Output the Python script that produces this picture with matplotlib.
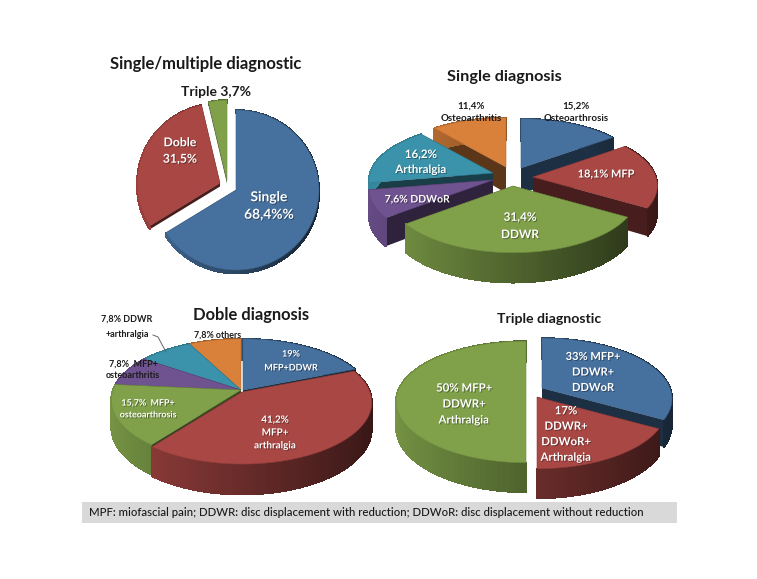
import numpy as np
import matplotlib
matplotlib.use("Agg")
import matplotlib.pyplot as plt
from matplotlib.patches import Polygon, Rectangle
from matplotlib.colors import to_rgb
import matplotlib.patheffects as pe

plt.rcParams['font.family'] = ['Lato', 'DejaVu Sans']

# colours of the slices
blue = '#46719f'
red = '#a94744'
green = '#80a14a'
purple = '#6f5290'
cyan = '#3b93ab'
orange = '#d9803a'

# values
multi_values = [68.4, 31.5, 3.7]
single_values = [15.2, 18.1, 31.4, 7.6, 16.2, 11.4]
doble_values = [19, 41.2, 15.7, 7.8, 7.8, 7.8]
triple_values = [33, 17, 50]

multi_labels = ["Single\n68,4%%", "Doble\n31,5%", "Triple 3,7%"]
single_labels = ["15,2%\nOsteoarthrosis", "18,1% MFP", "31,4%\nDDWR",
                 "7,6% DDWoR", "16,2%\nArthralgia", "11,4%\nOsteoarthritis"]
doble_labels = ["19%\nMFP+DDWR", "41,2%\nMFP+\narthralgia", "15,7%  MFP+\nosteoarthrosis",
                "7,8%  MFP+\nosteoarthritis", "7,8% DDWR\n+arthralgia", "7,8% others"]
triple_labels = ["33% MFP+\nDDWR+\nDDWoR", "17%\nDDWR+\nDDWoR+\nArthralgia", "50% MFP+\nDDWR+\nArthralgia"]

titles = ["Single/multiple diagnostic", "Single diagnosis", "Doble diagnosis", "Triple diagnostic"]
footer = "MPF: miofascial pain; DDWR: disc displacement with reduction; DDWoR: disc displacement without reduction"

fig = plt.figure(figsize=(7.57, 5.79), dpi=100)
ax = fig.add_axes([0, 0, 1, 1])
ax.set_xlim(0, 757)
ax.set_ylim(579, 0)
ax.axis('off')


def shade(color, f):
    return tuple(c * f for c in to_rgb(color))


def draw_pie(values, colors, cx, cy, rx, ry, depth, k, offsets):
    # 3d looking pie, slices go clockwise from 12 o'clock
    angles = np.concatenate([[0], np.cumsum(values)]) / np.sum(values) * 2 * np.pi
    mids = (angles[:-1] + angles[1:]) / 2
    for i in np.argsort(-np.cos(mids)):
        dx, dy = offsets[i]
        t = np.linspace(angles[i], angles[i + 1], 80)
        u = np.sin(t)
        v = np.cos(t)

        # d moves the point down to the bottom of the pie
        def project(a, b, d):
            s = 1 - k * b
            return cx + dx + rx * a * s, cy + dy - ry * b * s + depth * d * s

        ax0, ay0 = project(0, 0, 0)
        bx0, by0 = project(0, 0, 1)
        # flat side walls
        for e in [0, -1]:
            ex, ey = project(u[e], v[e], 0)
            fx, fy = project(u[e], v[e], 1)
            ax.add_patch(Polygon([(ax0, ay0), (ex, ey), (fx, fy), (bx0, by0)],
                                 fc=shade(colors[i], 0.42), ec='none'))
        # round wall, lighter on the left
        for j in range(len(t) - 1):
            x1, y1 = project(u[j], v[j], 0)
            x2, y2 = project(u[j + 1], v[j + 1], 0)
            x3, y3 = project(u[j + 1], v[j + 1], 1)
            x4, y4 = project(u[j], v[j], 1)
            c = shade(colors[i], 0.62 - 0.30 * u[j])
            ax.add_patch(Polygon([(x1, y1), (x2, y2), (x3, y3), (x4, y4)], fc=c, ec=c, lw=0.6,
                                 antialiased=False))
        # top
        xs, ys = project(u, v, 0)
        pts = [(ax0, ay0)] + list(zip(xs, ys))
        ax.add_patch(Polygon(pts, fc=colors[i], ec=shade(colors[i], 0.85), lw=0.4))


draw_pie(multi_values, [blue, red, green], 236, 190, 83, 80, 3.5, 0,
         [(0, 0), (-16, -7), (-9, -10)])
draw_pie(single_values, [blue, red, green, purple, cyan, orange], 510, 175, 123, 58, 26, 0.15,
         [(11, -7), (23, 2), (3, 11), (-17, 5), (-17, -2), (-4, -8)])
draw_pie(doble_values, [blue, red, green, purple, cyan, orange], 241, 390, 128, 61.6, 26, 0.17,
         [(2, 0), (1, 2), (0, 0), (0, 0), (0, 0), (0, 0)])
draw_pie(triple_values, [blue, red, green], 532, 391, 128, 60.8, 25, 0.18,
         [(10, -3), (5, 6), (-6, 0)])

shadow = [pe.withSimplePatchShadow(offset=(0.7, -0.7), shadow_rgbFace='k', alpha=0.35)]


def label(x, y, s, size, color='white', weight='bold', gap=1.2):
    t = ax.text(x, y, s, fontsize=size, color=color, fontweight=weight, ha='center',
                va='center', linespacing=gap, multialignment='center')
    if color == 'white':
        t.set_path_effects(shadow)
    return t


# titles
label(206, 64, titles[0], 12, '#1a1a1a')
label(504, 77, titles[1], 11.7, '#1a1a1a')
label(251, 315, titles[2], 11.9, '#1a1a1a')
label(549, 319, titles[3], 10.2, '#1a1a1a')

# first pie
label(269, 206, multi_labels[0], 9.9, gap=1.55)
label(180, 151, multi_labels[1], 8.8, gap=1.6)
label(216, 92, multi_labels[2], 10, '#1a1a1a')

# second pie
label(576, 112, single_labels[0], 7, '#1a1a1a', gap=1.5)
label(606, 174, single_labels[1], 7.9)
label(520, 226, single_labels[2], 8.5, gap=1.7)
label(417, 200, single_labels[3], 7.5)
label(421, 162, single_labels[4], 8.3, gap=1.45)
label(471, 112, single_labels[5], 7, '#1a1a1a', gap=1.5)

# third pie
label(291, 361, doble_labels[0], 6.5, gap=1.7)
label(275, 433, doble_labels[1], 7.1, gap=1.55)
label(148, 409, doble_labels[2], 6.4, gap=1.4)
label(133, 370, doble_labels[3], 6.5, '#1a1a1a', gap=1.4)
label(127, 327, doble_labels[4], 6.5, '#1a1a1a', gap=1.9)
label(218, 335, doble_labels[5], 6.4, '#1a1a1a')
ax.plot([153, 158, 166], [335, 337, 352], color='#666666', lw=0.7)

# fourth pie
label(593, 372, triple_labels[0], 8, gap=1.5)
label(566, 434, triple_labels[1], 8.2, gap=1.5)
label(464, 404, triple_labels[2], 8.2, gap=1.55)

# footer
ax.add_patch(Rectangle((82, 502), 595, 21, fc='#d9d9d9', ec='none'))
ax.text(89, 512.5, footer, fontsize=8.2, color='#1a1a1a', va='center', ha='left', fontweight='medium')

fig.savefig("out.png", dpi=100, facecolor='white')
